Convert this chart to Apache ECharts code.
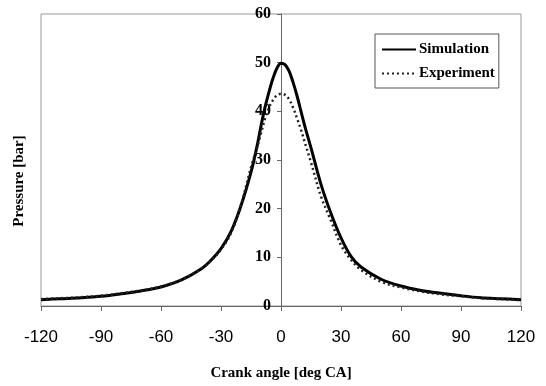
<!DOCTYPE html>
<html>
<head>
<meta charset="utf-8">
<script src="https://cdn.jsdelivr.net/npm/echarts@6/dist/echarts.min.js"></script>
<style>html,body{margin:0;padding:0;background:#fff}#c{width:546px;height:386px}</style>
</head>
<body>
<div id="c"></div>
<script>
var simAngles = [-120,-110,-100,-90,-80,-70,-60,-50,-40,-35,-30,-25,-20,-15,-12,-10,-8,-6,-4,-2,0,2,4,6,8,10,12,15,20,25,30,35,40,50,60,70,80,90,100,110,120];
var simulation = [1.3,1.5,1.7,2.0,2.5,3.1,3.9,5.3,7.6,9.4,11.8,15.3,20.6,27.5,32.8,37.0,40.8,44.0,46.8,48.9,49.9,49.6,48.3,46.0,43.2,40.0,36.8,32.5,25.0,19.0,14.0,10.2,8.0,5.5,4.1,3.2,2.6,2.1,1.7,1.5,1.3];
var expAngles = [-120,-110,-100,-90,-80,-70,-60,-50,-40,-35,-30,-25,-20,-15,-12,-10,-8,-6,-4,-2,0,2,4,6,8,10,12,15,20,25,30,35,40,50,60,70,80,90,100,110,120];
var experiment = [1.4,1.6,1.8,2.1,2.6,3.2,4.0,5.4,7.6,9.3,11.6,15.0,20.8,28.5,32.5,35.5,38.5,40.8,42.3,43.3,43.6,43.4,42.5,40.8,38.6,36.2,33.5,29.5,22.5,17.5,12.5,9.5,7.4,5.0,3.8,3.0,2.4,2.0,1.6,1.4,1.2];
var seriesNames = ['Simulation','Experiment'];
var xTitle = 'Crank angle [deg CA]';
var yTitle = 'Pressure [bar]';

function pairs(xs, ys){ return xs.map(function(x,i){ return [x, ys[i]]; }); }
var SERIF = '"Liberation Serif", "Times New Roman", serif';
var SANS = '"Liberation Sans Narrow", "Liberation Sans", Arial, sans-serif';
var chart = echarts.init(document.getElementById('c'), null, {renderer:'canvas'});
chart.setOption({
  animation: false,
  backgroundColor: '#fff',
  grid: {left: 41, right: 25, top: 14, bottom: 67, show: true, borderColor: '#999', borderWidth: 1},
  legend: {
    data: seriesNames, orient: 'vertical', left: 375, top: 34,
    itemWidth: 34, itemHeight: 12, itemGap: 9,
    padding: [8, 4, 7, 6], borderColor: '#555', borderWidth: 1,
    itemStyle: {opacity: 0, borderWidth: 0},
    textStyle: {fontFamily: SERIF, fontWeight: 'bold', fontSize: 15, color: '#000', padding: [0,0,0,-2]}
  },
  xAxis: {
    type: 'value', min: -120, max: 120, interval: 30,
    name: xTitle, nameLocation: 'middle', nameGap: 60,
    nameTextStyle: {fontFamily: SERIF, fontWeight: 'bold', fontSize: 15, color: '#000'},
    axisLine: {show: true, onZero: false, lineStyle: {color: '#666', width: 1}},
    axisTick: {show: true, inside: false, length: 5, lineStyle: {color: '#666'}},
    axisLabel: {fontFamily: SANS, fontSize: 17, color: '#000', margin: 23},
    splitLine: {show: false}
  },
  yAxis: {
    type: 'value', min: 0, max: 60, interval: 10,
    position: 'left', offset: -240,
    axisLine: {show: true, onZero: false, lineStyle: {color: '#666', width: 1}},
    axisTick: {show: true, length: 4, lineStyle: {color: '#666'}},
    axisLabel: {fontFamily: SERIF, fontWeight: 'bold', fontSize: 16, color: '#000', margin: 10},
    splitLine: {show: false}
  },
  graphic: [{
    type: 'text', rotation: Math.PI/2, x: 19, y: 181,
    style: {text: yTitle, font: 'bold 15px ' + SERIF, fill: '#000', textAlign: 'center', textVerticalAlign: 'middle'}
  }],
  series: [{
    name: seriesNames[0], type: 'line', smooth: 0.35, symbol: 'none',
    data: pairs(simAngles, simulation),
    lineStyle: {color: '#000', width: 3, type: 'solid'},
    itemStyle: {color: '#000'}
  },{
    name: seriesNames[1], type: 'line', smooth: 0.35, symbol: 'none',
    data: pairs(expAngles, experiment),
    lineStyle: {color: '#222', width: 2.5, type: [2, 3]},
    itemStyle: {color: '#222'}
  }]
});
</script>
</body>
</html>
